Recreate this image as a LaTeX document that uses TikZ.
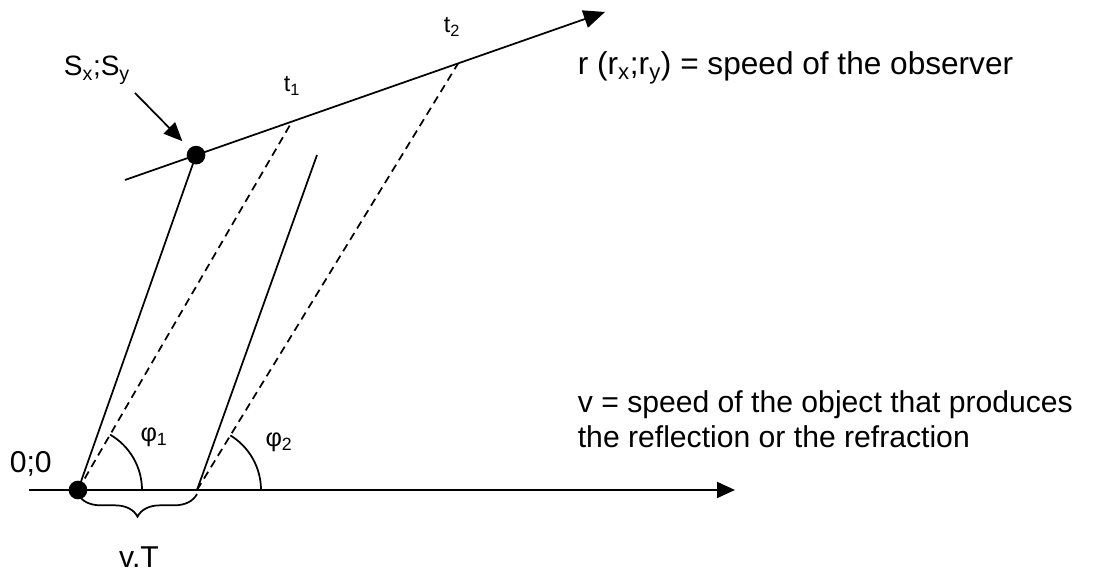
\documentclass[tikz,border=0pt]{standalone}
\usepackage{fontspec}
\setmainfont{Liberation Sans}
\usetikzlibrary{arrows.meta, decorations.pathreplacing}

\begin{document}
\begin{tikzpicture}[
  x=0.75pt, y=0.75pt,
  line width=1.3pt,
  >={Triangle[length=13.5pt, width=12pt]},
  guide/.style={line width=1.3pt, dash pattern=on 6pt off 4pt},
  dot/.style={circle, fill=black, inner sep=0pt, minimum size=14pt},
  lbl/.style={inner sep=0pt, font=\fontsize{22.6}{26.3}\selectfont},
  anglbl/.style={inner sep=0pt, font=\fontsize{19}{22}\selectfont},
  timelbl/.style={inner sep=0pt, font=\fontsize{17.5}{21}\selectfont},
  brace/.style={decorate, decoration={brace, amplitude=17pt}},
]
\useasboundingbox (-78,-83) rectangle (1032,490);

% --- points ---
\coordinate (O) at (0,0);
\coordinate (B) at (119,0);
\coordinate (axstart) at (-49,0);
\coordinate (axend) at (657,0);
\coordinate (rstart) at (47,310);
\coordinate (rend) at (527,478);
\path (rstart) -- (rend)
  coordinate[pos=0.148] (S)
  coordinate[pos=0.348] (T1)
  coordinate[pos=0.694] (T2);
\coordinate (Btop) at (239,335);
\coordinate (ptail) at (57,397);

% --- axes ---
\draw[->] (axstart) -- (axend);
\draw[->, >={Triangle[length=16pt, width=13.5pt]}] (rstart) -- (rend);

% --- rays ---
\draw (O) -- (S);
\draw (B) -- (Btop);
\draw[guide] (O) -- (T1);
\draw[guide] (B) -- (T2);

% --- angles ---
\draw (O) ++(0:48pt) arc[start angle=0, end angle=59.9, radius=48pt];
\draw (B) ++(0:48pt) arc[start angle=0, end angle=58.6, radius=48pt];

% --- brace ---
\draw[brace] ([yshift=-3pt]B) -- ([yshift=-3pt]O);

% --- dots ---
\node[dot] (odot) at (O) {};
\node[dot] (sdot) at (S) {};
\draw[->, >={Triangle[length=14pt, width=12pt]}, shorten >=7pt] (ptail) -- (sdot);

% --- labels ---
\node[lbl, anchor=base west] (orig) at (-69,17) {0;0};
\node[lbl, anchor=base west, font=\fontsize{21}{25}\selectfont] (slbl) at (-15,414)
  {S\textsubscript{x};S\textsubscript{y}};
\node[anglbl] (phi1) at (76,53) {φ\textsubscript{1}};
\node[anglbl] (phi2) at (201,48) {φ\textsubscript{2}};
\node[timelbl] (t1) at (214,404) {t\textsubscript{1}};
\node[timelbl] (t2) at (374,463) {t\textsubscript{2}};
\node[lbl, anchor=base] (vt) at (61,-78) {v.T};
\node[lbl, anchor=base west, font=\fontsize{23.7}{27}\selectfont] (rtext) at (499,415)
  {r (r\textsubscript{x};r\textsubscript{y}) = speed of the observer};
\node[lbl, anchor=base west] (vtext1) at (499,77)
  {v = speed of the object that produces};
\node[lbl, anchor=base west] (vtext2) at (499,42)
  {the reflection or the refraction};

\end{tikzpicture}
\end{document}
